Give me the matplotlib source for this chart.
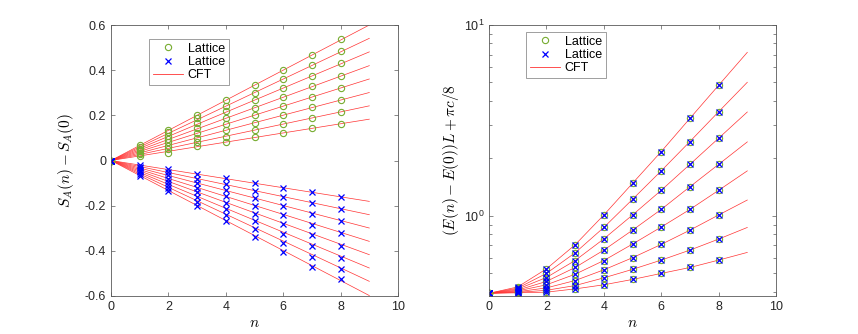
import numpy as np
import matplotlib
matplotlib.use('Agg')
import matplotlib.pyplot as plt
from matplotlib.ticker import LogLocator, NullFormatter, FixedLocator

plt.rcParams['font.family'] = ['Liberation Sans', 'DejaVu Sans']
plt.rcParams['mathtext.fontset'] = 'cm'
plt.rcParams['axes.unicode_minus'] = False

# 数据：n = 0..8 的格点值，CFT 曲线延伸到 n = 9
n_vals = [0, 1, 2, 3, 4, 5, 6, 7, 8]
n_end = 9

# 左图：S_A(n) - S_A(0)，上半部分（圆圈）每行一条线
s_upper = [
    [0, 0.067, 0.136, 0.202, 0.268, 0.335, 0.401, 0.469, 0.536],
    [0, 0.060, 0.124, 0.187, 0.242, 0.301, 0.361, 0.423, 0.483],
    [0, 0.053, 0.109, 0.165, 0.217, 0.268, 0.321, 0.376, 0.430],
    [0, 0.047, 0.094, 0.143, 0.187, 0.234, 0.282, 0.329, 0.376],
    [0, 0.040, 0.080, 0.121, 0.161, 0.200, 0.242, 0.282, 0.322],
    [0, 0.033, 0.065, 0.099, 0.136, 0.168, 0.200, 0.236, 0.268],
    [0, 0.027, 0.050, 0.084, 0.106, 0.136, 0.161, 0.190, 0.215],
    [0, 0.020, 0.035, 0.062, 0.081, 0.102, 0.121, 0.143, 0.162],
]
# 下半部分（叉号）
s_lower = [
    [0, -0.020, -0.038, -0.059, -0.078, -0.099, -0.120, -0.140, -0.160],
    [0, -0.027, -0.052, -0.080, -0.106, -0.136, -0.160, -0.189, -0.214],
    [0, -0.033, -0.066, -0.099, -0.132, -0.168, -0.201, -0.235, -0.268],
    [0, -0.040, -0.080, -0.120, -0.158, -0.202, -0.242, -0.284, -0.323],
    [0, -0.047, -0.095, -0.140, -0.186, -0.236, -0.282, -0.331, -0.377],
    [0, -0.053, -0.109, -0.161, -0.214, -0.270, -0.324, -0.380, -0.430],
    [0, -0.060, -0.123, -0.182, -0.242, -0.304, -0.367, -0.426, -0.482],
    [0, -0.067, -0.137, -0.202, -0.270, -0.338, -0.406, -0.473, -0.526],
]
# CFT 直线在 n = 9 处的值
s_cft_upper_end = [0.600, 0.541, 0.481, 0.420, 0.361, 0.301, 0.242, 0.183]
s_cft_lower_end = [-0.181, -0.240, -0.299, -0.358, -0.417, -0.476, -0.535, -0.598]

# 右图：(E(n) - E(0))L + pi c/8
e_vals = [
    [0.3927, 0.424, 0.527, 0.705, 1.010, 1.480, 2.170, 3.240, 4.830],
    [0.3927, 0.418, 0.499, 0.640, 0.869, 1.220, 1.720, 2.450, 3.510],
    [0.3927, 0.413, 0.475, 0.583, 0.757, 1.010, 1.360, 1.860, 2.550],
    [0.3927, 0.408, 0.453, 0.536, 0.661, 0.841, 1.080, 1.420, 1.860],
    [0.3927, 0.404, 0.435, 0.494, 0.583, 0.711, 0.873, 1.080, 1.360],
    [0.3927, 0.400, 0.419, 0.458, 0.521, 0.603, 0.708, 0.841, 1.010],
    [0.3927, 0.397, 0.407, 0.431, 0.473, 0.524, 0.586, 0.661, 0.755],
    [0.3927, 0.395, 0.398, 0.414, 0.435, 0.464, 0.499, 0.536, 0.586],
]
e_cft_end = [7.19, 5.01, 3.50, 2.44, 1.72, 1.21, 0.869, 0.643]

GREEN = (0.466, 0.674, 0.188)
RED = (1.0, 0.2, 0.2)
AX_COLOR = '0.35'


def style_axes(ax):
    for sp in ax.spines.values():
        sp.set_color(AX_COLOR)
        sp.set_linewidth(0.6)
    ax.tick_params(which='both', direction='in', top=True, right=True,
                   color=AX_COLOR, labelcolor='0.15', labelsize=9, width=0.5)
    ax.tick_params(which='major', length=3)
    ax.tick_params(which='minor', length=2)


def add_legend(ax, handles, loc):
    leg = ax.legend(handles, ['Lattice', 'Lattice', 'CFT'], loc='upper left',
                    bbox_to_anchor=loc, fontsize=9, frameon=True, fancybox=False,
                    handlelength=2.4, handletextpad=0.4, borderpad=0.3,
                    labelspacing=0.1, borderaxespad=0)
    leg.get_frame().set_edgecolor('0.45')
    leg.get_frame().set_linewidth(0.6)


fig = plt.figure(figsize=(8.58, 3.34), dpi=100)
ax1 = fig.add_axes([111 / 858, 38 / 334, 287 / 858, 271 / 334])
ax2 = fig.add_axes([489 / 858, 38 / 334, 287 / 858, 271 / 334])

# 左图
for end in s_cft_upper_end + s_cft_lower_end:
    ax1.plot([0, n_end], [0, end], color=RED, lw=0.5)
for row in s_upper:
    ho, = ax1.plot(n_vals, row, 'o', mfc='none', mec=GREEN, ms=4.5, mew=0.8, ls='none')
for row in s_lower:
    hx, = ax1.plot(n_vals, row, 'x', color='b', ms=4.5, mew=0.9, ls='none')
hl, = ax1.plot([], [], color=RED, lw=0.6)
ax1.set_xlim(0, 10)
ax1.set_ylim(-0.6, 0.6)
ax1.set_xticks([0, 2, 4, 6, 8, 10])
ax1.set_yticks([-0.6, -0.4, -0.2, 0, 0.2, 0.4, 0.6])
ax1.set_yticklabels(['-0.6', '-0.4', '-0.2', '0', '0.2', '0.4', '0.6'])
ax1.set_xlabel('$n$', fontsize=11, labelpad=2)
ax1.set_ylabel('$S_A(n)-S_A(0)$', fontsize=11, labelpad=6)
style_axes(ax1)
add_legend(ax1, [ho, hx, hl], (38 / 287, 1 - 14 / 271))

# 右图
for row, end in zip(e_vals, e_cft_end):
    ax2.plot(n_vals + [n_end], row + [end], color=RED, lw=0.5)
for row in e_vals:
    ho2, = ax2.plot(n_vals, row, 'o', mfc='none', mec=GREEN, ms=4.5, mew=0.8, ls='none')
for row in e_vals:
    hx2, = ax2.plot(n_vals, row, 'x', color='b', ms=4.5, mew=0.9, ls='none')
hl2, = ax2.plot([], [], color=RED, lw=0.6)
ax2.set_yscale('log')
ax2.set_xlim(0, 10)
ax2.set_ylim(0.38, 10)
ax2.set_xticks([0, 2, 4, 6, 8, 10])
ax2.yaxis.set_major_locator(FixedLocator([1, 10]))
ax2.yaxis.set_minor_locator(LogLocator(base=10, subs=np.arange(2, 10)))
ax2.yaxis.set_minor_formatter(NullFormatter())
ax2.set_xlabel('$n$', fontsize=11, labelpad=2)
ax2.set_ylabel('$(E(n)-E(0))L+\\pi c/8$', fontsize=11, labelpad=2)
style_axes(ax2)
add_legend(ax2, [ho2, hx2, hl2], (37 / 287, 1 - 7 / 271))

fig.savefig('out.png', dpi=100)
